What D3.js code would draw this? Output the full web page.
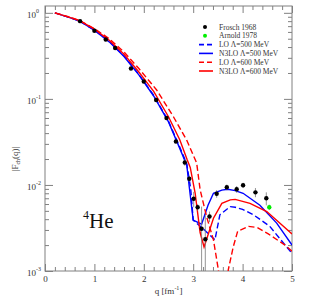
<!DOCTYPE html>
<html>
<head>
<meta charset="utf-8">
<script src="https://cdn.jsdelivr.net/npm/d3@7"></script>
<style>
	body { margin: 0; background: #fff; }
	text { font-family: 'Liberation Serif', 'DejaVu Serif', serif; }
</style>
</head>
<body>
<script>
const margin = { top: 6, right: 35, bottom: 33, left: 45 }
const width = 327
const height = 304
const innerWidth = width - margin.left - margin.right
const innerHeight = height - margin.top - margin.bottom

// Frosch 1968 data: q, |F|, error
const froschQ = [0.71, 1.0, 1.23, 1.42, 1.74, 2.0, 2.25, 2.46, 2.65, 2.83, 2.92, 3.01, 3.09, 3.17, 3.245, 3.33, 3.475, 3.68, 3.88, 4.01, 4.26, 4.48]
const froschF = [0.80, 0.62, 0.49, 0.39, 0.225, 0.159, 0.097, 0.060, 0.032, 0.0182, 0.0118, 0.0069, 0.0055, 0.0031, 0.00234, 0.0043, 0.0079, 0.0094, 0.0089, 0.0099, 0.0082, 0.0070]
const froschErr = [0, 0, 0, 0, 0, 0, 0, 0, 0.001, 0.0015, 0.001, 0.0014, 0.0005, 0.0025, 0.0021, 0.0006, 0.0008, 0.0007, 0.0008, 0.0007, 0.001, 0.0012]

const arnoldQ = [4.54]
const arnoldF = [0.0055]
const arnoldErr = [0.0004]

// theory curves [q, |F|]
const lo500 = [[0.2, 1.0], [0.5, 0.88], [0.7, 0.80], [1.0, 0.63], [1.3, 0.465], [1.6, 0.315], [1.9, 0.193], [2.2, 0.11], [2.5, 0.055], [2.7, 0.030], [2.87, 0.0175], [2.95, 0.009], [3.0, 0.0039], [3.2, 0.0031], [3.44, 0.0023], [3.54, 0.0045], [3.75, 0.0056], [3.85, 0.0055], [4.0, 0.0052], [4.22, 0.0045], [4.55, 0.0033], [5.0, 0.0016]]
const n3lo500 = [[0.2, 1.0], [0.5, 0.88], [0.7, 0.80], [1.0, 0.63], [1.3, 0.46], [1.6, 0.31], [1.9, 0.19], [2.2, 0.108], [2.5, 0.054], [2.7, 0.029], [2.87, 0.017], [2.93, 0.0085], [3.0, 0.0039], [3.17, 0.0035], [3.3, 0.0058], [3.41, 0.008], [3.58, 0.0087], [3.7, 0.0089], [3.85, 0.0086], [4.01, 0.008], [4.35, 0.0058], [4.69, 0.0036], [5.0, 0.002]]
const lo600 = [[0.2, 1.0], [0.5, 0.89], [0.7, 0.815], [1.0, 0.655], [1.3, 0.5], [1.6, 0.35], [1.9, 0.225], [2.26, 0.127], [2.6, 0.062], [2.87, 0.033], [3.07, 0.018], [3.14, 0.0088], [3.27, 0.0043], [3.41, 0.0023], [3.51, 0.00103], [3.58, 0.0004], [3.66, 0.0004], [3.71, 0.00103], [3.81, 0.0019], [3.9, 0.0029], [4.12, 0.0033], [4.3, 0.0032], [4.52, 0.0027], [4.86, 0.002], [5.0, 0.0017]]
const n3lo600 = [[0.2, 1.0], [0.5, 0.885], [0.7, 0.81], [1.0, 0.645], [1.3, 0.48], [1.6, 0.33], [1.9, 0.205], [2.2, 0.122], [2.5, 0.062], [2.73, 0.0333], [2.88, 0.0195], [2.94, 0.016], [3.04, 0.008], [3.14, 0.0028], [3.22, 0.0019], [3.41, 0.0041], [3.58, 0.0061], [3.75, 0.0067], [3.85, 0.0068], [4.15, 0.0061], [4.49, 0.0049], [5.0, 0.0027]]

const curves = [
	{ name: 'LO \u039B=500 MeV', data: lo500, color: '#0000ff', dash: '6,3' },
	{ name: 'N3LO \u039B=500 MeV', data: n3lo500, color: '#0000ff', dash: null },
	{ name: 'LO \u039B=600 MeV', data: lo600, color: '#ff0000', dash: '6,3' },
	{ name: 'N3LO \u039B=600 MeV', data: n3lo600, color: '#ff0000', dash: null }
]

const xMajor = [0, 1, 2, 3, 4, 5]
const yMajor = [1e-3, 1e-2, 1e-1, 1]
const yExp = ['-3', '-2', '-1', '0']

const xScale = d3.scaleLinear()
	.domain([0, 5])
	.range([0, innerWidth])

const yScale = d3.scaleLog()
	.domain([1e-3, 1.2])
	.range([innerHeight, 0])

const svg = d3.select('body')
	.append('svg')
	.attr('width', width)
	.attr('height', height)

const g = svg.append('g')
	.attr('transform', `translate(${margin.left},${margin.top})`)

svg.append('defs')
	.append('clipPath')
	.attr('id', 'clip')
	.append('rect')
	.attr('width', innerWidth)
	.attr('height', innerHeight)

const xMinor = d3.range(0, 5.001, 0.2).map(d => +d.toFixed(1)).filter(d => !xMajor.includes(d))
const yMinor = []
yMajor.forEach(p => { for (let k = 2; k <= 9; k++) if (p * k < 1.2) yMinor.push(p * k) })

const axisColor = '#808080'

// axes: bottom, top, left, right with inward ticks
const addAxis = (axisFn, transform, values, size, labels) => {
	const a = g.append('g')
		.attr('transform', transform)
		.call(axisFn.tickValues(values).tickSize(size).tickPadding(5).tickFormat(d3.format('d')))
	a.select('.domain').remove()
	a.selectAll('line').attr('stroke', axisColor)
	if (labels) {
		a.selectAll('text')
			.attr('fill', '#333')
			.style('font-family', "'Liberation Serif', serif")
			.style('font-size', '9px')
	} else {
		a.selectAll('text').remove()
	}
	return a
}

addAxis(d3.axisBottom(xScale), `translate(0,${innerHeight})`, xMajor, -7, true)
addAxis(d3.axisBottom(xScale), `translate(0,${innerHeight})`, xMinor, -4, false)
addAxis(d3.axisTop(xScale), 'translate(0,0)', xMajor, -7, false)
addAxis(d3.axisTop(xScale), 'translate(0,0)', xMinor, -4, false)
addAxis(d3.axisLeft(yScale), 'translate(0,0)', yMajor, -8, false)
addAxis(d3.axisLeft(yScale), 'translate(0,0)', yMinor, -4, false)
addAxis(d3.axisRight(yScale), `translate(${innerWidth},0)`, yMajor, -8, false)
addAxis(d3.axisRight(yScale), `translate(${innerWidth},0)`, yMinor, -4, false)

// y tick labels 10^n
const yLab = g.selectAll('.ylab')
	.data(yMajor)
	.enter()
	.append('text')
	.attr('class', 'ylab')
	.attr('x', -18)
	.attr('y', d => yScale(d) + 5)
	.attr('fill', '#333')
	.style('font-size', '9px')
yLab.append('tspan').text('10')
yLab.append('tspan')
	.attr('dy', -5)
	.style('font-size', '6px')
	.text((d, i) => yExp[i])

g.append('rect')
	.attr('width', innerWidth)
	.attr('height', innerHeight)
	.attr('fill', 'none')
	.attr('stroke', axisColor)
	.attr('stroke-width', 1)

// axis titles
const xt = g.append('text')
	.attr('x', innerWidth / 2)
	.attr('y', innerHeight + 23)
	.attr('text-anchor', 'middle')
	.attr('fill', '#333')
	.style('font-size', '9px')
xt.append('tspan').text('q [fm')
xt.append('tspan').attr('dy', -4).style('font-size', '6px').text('-1')
xt.append('tspan').attr('dy', 4).text(']')

const yt = g.append('text')
	.attr('transform', `translate(-27,${yScale(0.02)}) rotate(-90)`)
	.attr('text-anchor', 'middle')
	.attr('fill', '#333')
	.style('font-size', '9px')
yt.append('tspan').text('|F')
yt.append('tspan').attr('dy', 2).style('font-size', '6px').text('ch')
yt.append('tspan').attr('dy', -2).text('(q)|')

// curves
const plot = g.append('g').attr('clip-path', 'url(#clip)')

const line = d3.line()
	.x(d => xScale(d[0]))
	.y(d => yScale(d[1]))

plot.selectAll('.curve')
	.data(curves)
	.enter()
	.append('path')
	.attr('class', 'curve')
	.attr('d', c => line(c.data))
	.attr('fill', 'none')
	.attr('stroke', c => c.color)
	.attr('stroke-width', 1.4)
	.attr('stroke-dasharray', c => c.dash)

// data points with error bars
const frosch = froschQ.map((q, i) => ({ q: q, f: froschF[i], e: froschErr[i] }))
const arnold = arnoldQ.map((q, i) => ({ q: q, f: arnoldF[i], e: arnoldErr[i] }))

const drawPoints = (data, color) => {
	plot.selectAll(null)
		.data(data.filter(d => d.e > 0))
		.enter()
		.append('line')
		.attr('x1', d => xScale(d.q))
		.attr('x2', d => xScale(d.q))
		.attr('y1', d => yScale(d.f + d.e))
		.attr('y2', d => yScale(Math.max(d.f - d.e, 1e-5)))
		.attr('stroke', '#777')
		.attr('stroke-width', 0.8)
	plot.selectAll(null)
		.data(data)
		.enter()
		.append('circle')
		.attr('cx', d => xScale(d.q))
		.attr('cy', d => yScale(d.f))
		.attr('r', 2.2)
		.attr('fill', color)
}
drawPoints(frosch, '#000')
drawPoints(arnold, '#00ee00')

// 4He label
const he = g.append('text')
	.attr('x', 38)
	.attr('y', 222)
	.attr('fill', '#111')
	.style('font-size', '21px')
he.append('tspan').attr('dy', -9).style('font-size', '12px').text('4')
he.append('tspan').attr('dy', 9).text('He')

// Legend
const legendItems = [
	{ name: 'Frosch 1968', color: '#000', type: 'dot' },
	{ name: 'Arnold 1978', color: '#00ee00', type: 'dot' }
].concat(curves.map(c => ({ name: c.name, color: c.color, type: 'line', dash: c.dash })))

const legend = g.selectAll('.legend')
	.data(legendItems)
	.enter()
	.append('g')
	.attr('class', 'legend')
	.attr('transform', (d, i) => `translate(154,${21 + i * 8.8})`)

legend.filter(d => d.type === 'dot')
	.append('circle')
	.attr('cx', 6)
	.attr('r', 2)
	.attr('fill', d => d.color)

legend.filter(d => d.type === 'line')
	.append('line')
	.attr('x1', 0)
	.attr('x2', 14)
	.attr('stroke', d => d.color)
	.attr('stroke-width', 1.6)
	.attr('stroke-dasharray', d => d.dash ? '5,3' : null)

legend.append('text')
	.attr('x', 20)
	.attr('y', 2.5)
	.attr('fill', '#333')
	.style('font-size', '7.5px')
	.text(d => d.name)
</script>
</body>
</html>
